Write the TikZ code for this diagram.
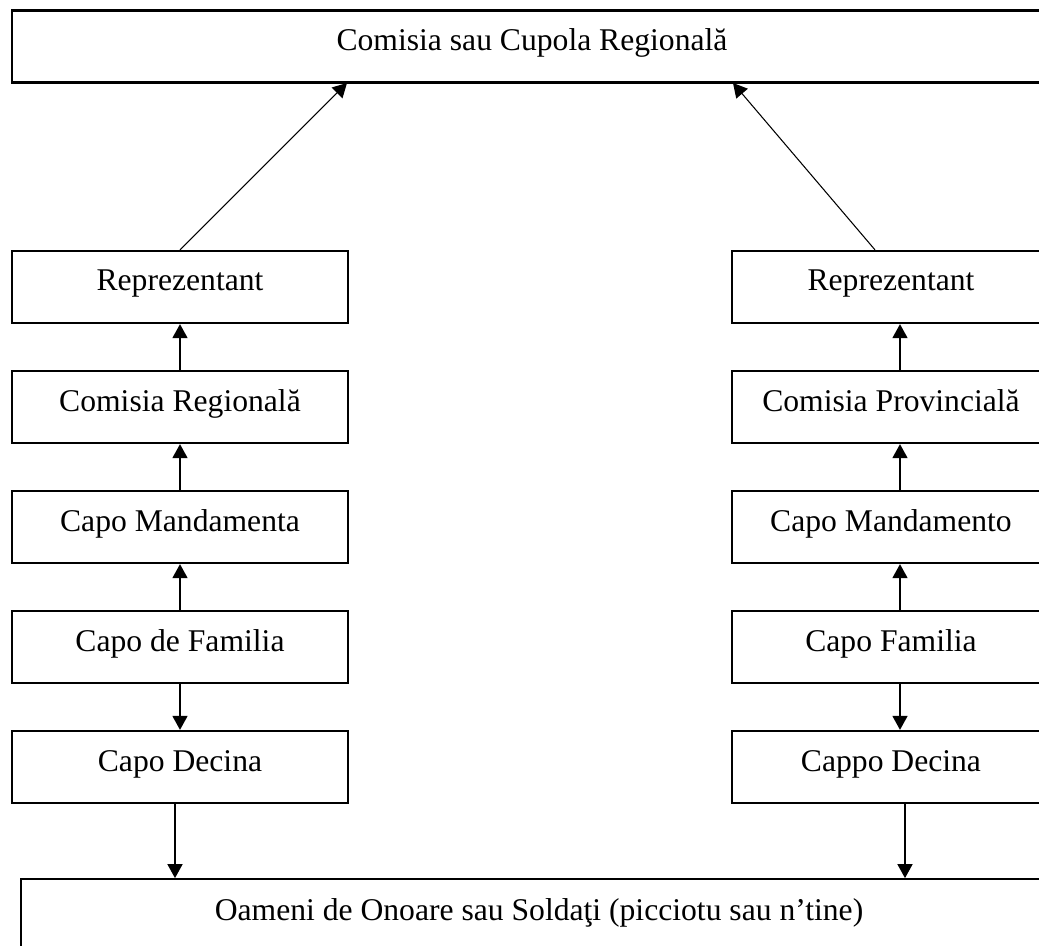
\documentclass[tikz,border=0pt]{standalone}
\usepackage{fontspec}
\setmainfont{Liberation Serif}
\usetikzlibrary{arrows.meta}

\begin{document}
\begin{tikzpicture}[x=0.02cm, y=-0.02cm]
	% Styles for the boxes and the arrows
	\tikzset{
		box/.style={draw, line width=1.3pt, rectangle, inner sep=0pt,
			text height=0.8cm, text depth=0.64cm, font=\fontsize{18}{22}\selectfont},
		lbox/.style={box, minimum width=6.72cm},
		rbox/.style={box, minimum width=6.36cm},
		arr/.style={line width=0.9pt, -{Triangle[length=0.28cm, width=0.3cm]}}
	}
	\useasboundingbox (0,0) rectangle (1039,946);
	
	% Top box
	\node[box, minimum width=20.8cm] (cupola) at (532,46.5) {Comisia sau Cupola Regională};
	
	% Left column
	\node[lbox] (lrep) at (180,287) {Reprezentant};
	\node[lbox] (lcom) at (180,407) {Comisia Regională};
	\node[lbox] (lman) at (180,527) {Capo Mandamenta};
	\node[lbox] (lfam) at (180,647) {Capo de Familia};
	\node[lbox] (ldec) at (180,767) {Capo Decina};
	
	% Right column
	\node[rbox] (rrep) at (891,287) {Reprezentant};
	\node[rbox] (rcom) at (891,407) {Comisia Provincială};
	\node[rbox] (rman) at (891,527) {Capo Mandamento};
	\node[rbox] (rfam) at (891,647) {Capo Familia};
	\node[rbox] (rdec) at (891,767) {Cappo Decina};
	
	% Bottom box
	\node[box, line width=1pt, minimum width=20.72cm, text height=0.82cm, text depth=1.8cm]
		(soldati) at (539,944.5) {Oameni de Onoare sau Soldaţi (picciotu sau n’tine)};
	
	% Points where the arrows meet
	\coordinate (cupL) at (347,83);
	\coordinate (cupR) at (733,83);
	\coordinate (rx) at (900,0);
	\coordinate (rxd) at (875,0);
	\coordinate (lxb) at (175,0);
	\coordinate (rxb) at (905,0);
	
	% Arrows to the top
	\draw[arr, line width=0.6pt] (lrep.north) -- (cupL);
	\draw[arr, line width=0.6pt] (rrep.north -| rxd) -- (cupR);
	
	% Left arrows
	\draw[arr] (lcom.north) -- (lrep.south);
	\draw[arr] (lman.north) -- (lcom.south);
	\draw[arr] (lfam.north) -- (lman.south);
	\draw[arr] (lfam.south) -- (ldec.north);
	\draw[arr] (ldec.south -| lxb) -- (soldati.north -| lxb);
	
	% Right arrows
	\draw[arr] (rcom.north -| rx) -- (rrep.south -| rx);
	\draw[arr] (rman.north -| rx) -- (rcom.south -| rx);
	\draw[arr] (rfam.north -| rx) -- (rman.south -| rx);
	\draw[arr] (rfam.south -| rx) -- (rdec.north -| rx);
	\draw[arr] (rdec.south -| rxb) -- (soldati.north -| rxb);
\end{tikzpicture}
\end{document}
